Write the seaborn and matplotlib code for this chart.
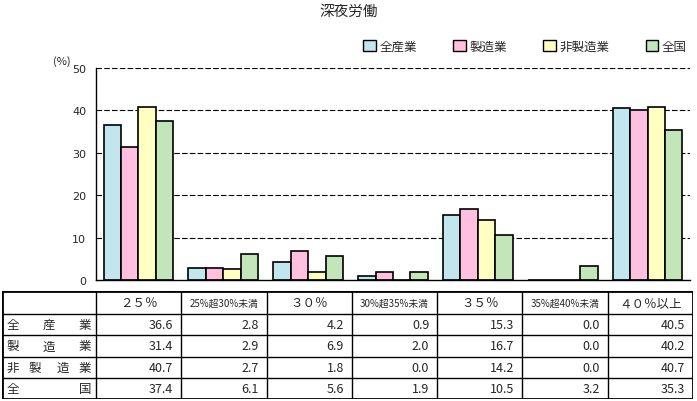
import pandas as pd
import matplotlib.pyplot as plt
import seaborn as sns
from matplotlib.patches import Patch

categories = ["２５％", "25%超30%未満", "３０％", "30%超35%未満", "３５％", "35%超40%未満", "４０％以上"]
series = ["全産業", "製造業", "非製造業", "全国"]
row_labels = ["全産業", "製造業", "非製造業", "全国"]
all_industry = [36.6, 2.8, 4.2, 0.9, 15.3, 0.0, 40.5]
manufacturing = [31.4, 2.9, 6.9, 2.0, 16.7, 0.0, 40.2]
non_manufacturing = [40.7, 2.7, 1.8, 0.0, 14.2, 0.0, 40.7]
nationwide = [37.4, 6.1, 5.6, 1.9, 10.5, 3.2, 35.3]
colors = ["#C2E6EE", "#FFBFDF", "#FFFFC2", "#C2E6B9"]

values = [all_industry, manufacturing, non_manufacturing, nationwide]
rows = []
for name, vals in zip(series, values):
    for cat, v in zip(categories, vals):
        rows.append({"category": cat, "series": name, "value": v})
df = pd.DataFrame(rows)

sns.set_style("white")
plt.rcParams["font.family"] = ["Noto Sans CJK JP", "DejaVu Sans"]

W, H = 697, 402
fig = plt.figure(figsize=(W / 100, H / 100), dpi=100)

# chart area
ax = fig.add_axes([96 / W, (H - 281) / H, 594 / W, 212 / H])
sns.barplot(data=df, x="category", y="value", hue="series", order=categories,
            hue_order=series, palette=colors, saturation=1, width=0.82, gap=0,
            edgecolor="black", linewidth=1.2, ax=ax, legend=False)
ax.set_ylim(0, 50)
ax.set_xlim(-0.5, len(categories) - 0.5)
ax.set_yticks(range(0, 51, 10))
ax.set_xticks([])
ax.set_xlabel("")
ax.set_ylabel("")
for y in range(10, 51, 10):
    ax.axhline(y, color="black", linestyle=(0, (5, 2)), linewidth=0.8, zorder=0)
for s in ["top", "right"]:
    ax.spines[s].set_visible(False)
for s in ["left", "bottom"]:
    ax.spines[s].set_color("black")
    ax.spines[s].set_linewidth(1)
ax.tick_params(axis="y", direction="out", length=4, width=1, color="black",
               labelsize=8, pad=3)
for t in ax.get_yticklabels():
    t.set_family("DejaVu Sans")

fig.text(62 / W, 1 - 62 / H, "(%)", fontsize=8, ha="center", va="center")
fig.text(349 / W, 1 - 12 / H, "深夜労働", fontsize=10.5, ha="center", va="center")

handles = [Patch(facecolor=c, edgecolor="black", linewidth=1) for c in colors]
fig.legend(handles, series, loc="center right", bbox_to_anchor=(692 / W, 1 - 47 / H),
           ncol=4, frameon=False, fontsize=9, handlelength=1.0, handleheight=1.0,
           handletextpad=0.3, columnspacing=2.9, borderaxespad=0)

# data table underneath
tx = fig.add_axes([2 / W, 2 / H, 691 / W, 108 / H])
tx.set_xlim(0, 691)
tx.set_ylim(108, 0)
tx.axis("off")
col_edges = [0, 94] + [94 + 85.3 * (i + 1) for i in range(len(categories))]
row_edges = [0, 23, 44, 66, 87, 108]
for x in col_edges[1:-1]:
    tx.plot([x, x], [0, 108], color="black", linewidth=1)
for y in row_edges[1:-1]:
    tx.plot([0, 691], [y, y], color="black", linewidth=1)
tx.plot([0, 691, 691, 0, 0], [0, 0, 108, 108, 0], color="black", linewidth=2,
        solid_joinstyle="miter")

for j, cat in enumerate(categories):
    xc = (col_edges[j + 1] + col_edges[j + 2]) / 2
    small = "超" in cat
    tx.text(xc, 11.5, cat, ha="center", va="center", fontsize=7 if small else 9)
for i, (lab, vals) in enumerate(zip(row_labels, values)):
    yc = (row_edges[i + 1] + row_edges[i + 2]) / 2
    # spread label characters across the first column
    n = len(lab)
    for k, ch in enumerate(lab):
        xk = 5 + (84 * k / (n - 1) if n > 1 else 0)
        tx.text(xk, yc, ch, ha="left" if k == 0 else ("right" if k == n - 1 else "center"),
                va="center", fontsize=9)
    for j, v in enumerate(vals):
        tx.text(col_edges[j + 2] - 8, yc, f"{v:.1f}", ha="right", va="center", fontsize=9)

fig.savefig("out.png", dpi=100)
